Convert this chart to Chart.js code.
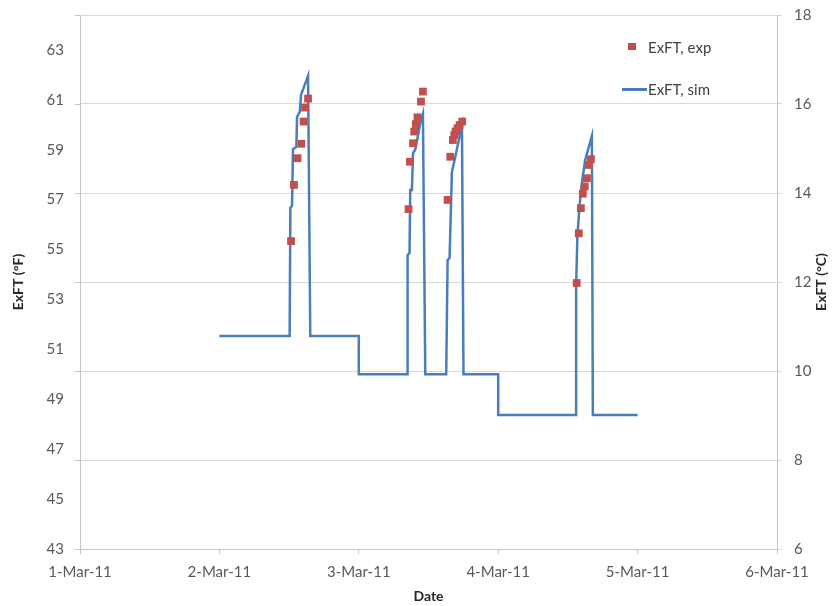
<!DOCTYPE html>
<html>
<head>
<meta charset="utf-8">
<script src="https://cdn.jsdelivr.net/npm/chart.js@4/dist/chart.umd.min.js"></script>
<style>
  html, body { margin: 0; padding: 0; background: #ffffff; }
  #wrap { position: relative; width: 832px; height: 606px; }
  #legend { position: absolute; left: 618px; top: 34px; font-family: Lato, "Liberation Sans", sans-serif; font-size: 15px; color: #404040; }
  .item { position: relative; height: 42px; line-height: 26px; padding-left: 30px; white-space: nowrap; }
  .sq { position: absolute; left: 10px; top: 9px; width: 8px; height: 7px; background: #c0504d; }
  .ln { position: absolute; left: 4px; top: 12px; width: 25px; height: 2.5px; background: #4a7ebb; }
</style>
</head>
<body>
<div id="wrap">
  <canvas id="c" width="832" height="606"></canvas>
  <div id="legend">
    <div class="item"><span class="sq"></span>ExFT, exp</div>
    <div class="item"><span class="ln"></span>ExFT, sim</div>
  </div>
</div>
<script>
// Date axis: days counted from 1-Mar-11
const xTickLabels = ['1-Mar-11', '2-Mar-11', '3-Mar-11', '4-Mar-11', '5-Mar-11', '6-Mar-11'];
const leftTicks = [43, 45, 47, 49, 51, 53, 55, 57, 59, 61, 63];
const rightTicks = [6, 8, 10, 12, 14, 16, 18];

// Simulated exit fluid temperature (°F)
const simDay = [1.0, 1.504, 1.509, 1.521, 1.528, 1.552, 1.557, 1.576, 1.586, 1.636,
  1.652, 2.0, 2.0, 2.346,
  2.350, 2.364, 2.369, 2.381, 2.389, 2.405, 2.441, 2.460,
  2.477, 2.627,
  2.637, 2.651, 2.668, 2.692, 2.728, 2.740,
  2.751, 3.0, 3.0, 3.559,
  3.559, 3.568, 3.583, 3.600, 3.624, 3.672,
  3.679, 4.0];
const simF = [51.54, 51.54, 56.67, 56.76, 59.03, 59.11, 60.31, 60.52, 61.20, 61.96,
  51.54, 51.54, 50.0, 50.0,
  54.78, 54.86, 57.39, 57.39, 58.87, 59.0, 60.07, 60.44,
  50.0, 50.0,
  54.58, 54.66, 58.11, 58.71, 59.67, 59.96,
  50.0, 50.0, 48.37, 48.37,
  53.51, 55.52, 56.72, 57.66, 58.59, 59.55,
  48.37, 48.37];

// Measured exit fluid temperature (°F)
const expDay = [1.514, 1.535, 1.561, 1.588, 1.604, 1.614, 1.636,
  2.357, 2.367, 2.389, 2.398, 2.409, 2.421, 2.446, 2.460,
  2.637, 2.656, 2.675, 2.685, 2.694, 2.708, 2.723, 2.742,
  3.563, 3.578, 3.593, 3.607, 3.621, 3.636, 3.650, 3.665];
const expF = [55.34, 57.59, 58.66, 59.24, 60.13, 60.69, 61.05,
  56.62, 58.52, 59.26, 59.73, 60.03, 60.30, 60.93, 61.33,
  56.99, 58.72, 59.39, 59.59, 59.73, 59.86, 59.99, 60.13,
  53.66, 55.65, 56.66, 57.24, 57.53, 57.86, 58.39, 58.62];

const FONT = 'Lato, "Liberation Sans", sans-serif';
const TICK_COLOR = '#595959';
const GRID = '#d9d9d9';
const AXIS = '#c6c6c6';

const toPoints = (xs, ys) => xs.map((x, i) => ({ x: x, y: ys[i] }));

// Vertical axes: fixed width, no extra room reserved for the end labels
const fitVertical = w => s => { s.width = w; s.paddingTop = 0; s.paddingBottom = 0; };

// Short stubs left of the °F axis at each °C gridline, and the °C axis title
const extras = {
  id: 'extras',
  afterDraw(chart) {
    const ctx = chart.ctx;
    const area = chart.chartArea;
    const y2 = chart.scales.y2;
    ctx.save();
    ctx.strokeStyle = AXIS;
    ctx.lineWidth = 1;
    y2.ticks.forEach(t => {
      const py = Math.round(y2.getPixelForValue(t.value)) + 0.5;
      ctx.beginPath();
      ctx.moveTo(area.left - 5, py);
      ctx.lineTo(area.left, py);
      ctx.stroke();
    });
    ctx.translate(821, (area.top + area.bottom) / 2);
    ctx.rotate(-Math.PI / 2);
    ctx.fillStyle = '#262626';
    ctx.font = 'bold 14px ' + FONT;
    ctx.textAlign = 'center';
    ctx.textBaseline = 'middle';
    ctx.fillText('ExFT (°C)', 0, 0);
    ctx.restore();
  }
};

new Chart(document.getElementById('c'), {
  type: 'scatter',
  data: {
    datasets: [
      {
        label: 'ExFT, exp',
        data: toPoints(expDay, expF),
        yAxisID: 'y',
        pointStyle: 'rect',
        pointRadius: 5.5,
        pointHoverRadius: 5.5,
        pointBorderWidth: 0,
        backgroundColor: '#c0504d',
        borderColor: '#c0504d',
        order: 1
      },
      {
        label: 'ExFT, sim',
        data: toPoints(simDay, simF),
        yAxisID: 'y',
        showLine: true,
        tension: 0,
        pointRadius: 0,
        borderWidth: 2.5,
        borderColor: '#4a7ebb',
        backgroundColor: '#4a7ebb',
        order: 2
      }
    ]
  },
  options: {
    responsive: false,
    animation: false,
    layout: { padding: { top: 15, left: 0, right: 0, bottom: 0 } },
    plugins: {
      legend: { display: false },
      tooltip: { enabled: false }
    },
    scales: {
      x: {
        type: 'linear',
        min: 0,
        max: 5,
        afterBuildTicks: s => { s.ticks = xTickLabels.map((_, i) => ({ value: i })); },
        afterFit: s => { s.height = 57; },
        grid: { display: true, drawOnChartArea: false, drawTicks: true, tickLength: 5, color: AXIS },
        border: { display: true, color: AXIS },
        ticks: {
          padding: 9,
          color: TICK_COLOR,
          font: { family: FONT, size: 15 },
          maxRotation: 0,
          callback: (v, i) => xTickLabels[i]
        },
        title: {
          display: true,
          text: 'Date',
          color: '#262626',
          font: { family: FONT, size: 14, weight: 'bold' },
          padding: { top: 0, bottom: 1 }
        }
      },
      y: {
        position: 'left',
        min: 43,
        max: 64.4,
        afterBuildTicks: s => { s.ticks = leftTicks.map(v => ({ value: v })); },
        afterFit: fitVertical(80),
        grid: { display: false, drawTicks: false },
        border: { display: true, color: AXIS },
        ticks: {
          padding: 16,
          color: TICK_COLOR,
          font: { family: FONT, size: 15 }
        },
        title: {
          display: true,
          text: 'ExFT (°F)',
          color: '#262626',
          font: { family: FONT, size: 14, weight: 'bold' },
          padding: { top: 10, bottom: 0 }
        }
      },
      y2: {
        position: 'right',
        min: 6,
        max: 18,
        afterBuildTicks: s => { s.ticks = rightTicks.map(v => ({ value: v })); },
        afterFit: fitVertical(55),
        grid: { display: true, drawOnChartArea: true, drawTicks: true, tickLength: 5, color: GRID },
        border: { display: true, color: AXIS },
        ticks: {
          padding: 12,
          color: TICK_COLOR,
          font: { family: FONT, size: 15 }
        }
      }
    }
  },
  plugins: [extras]
});
</script>
</body>
</html>
